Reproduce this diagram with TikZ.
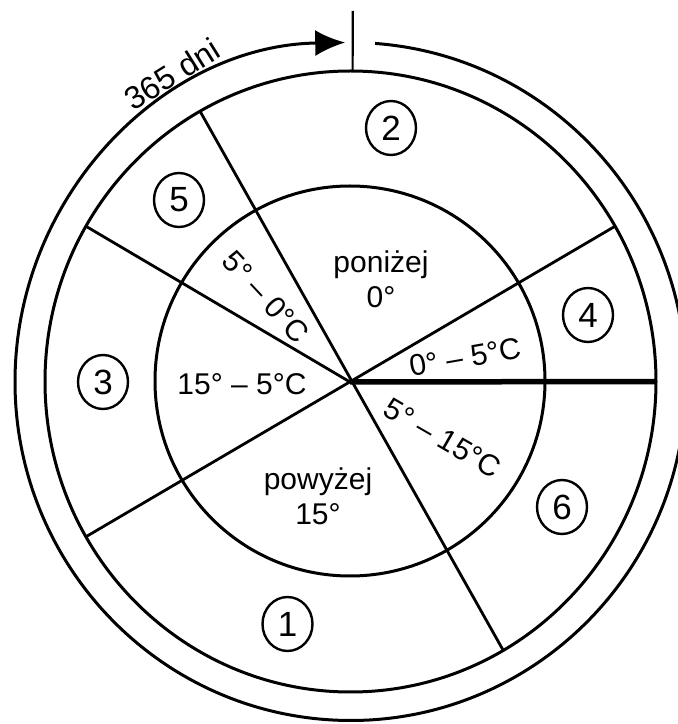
\documentclass[tikz,border=0pt]{standalone}
\usepackage{fontspec}
\setmainfont{Liberation Sans}
\usetikzlibrary{calc,shapes.geometric,arrows.meta}
\begin{document}
\begin{tikzpicture}[x=1pt,y=1pt,
  ringline/.style={line width=3pt},
  rayline/.style={line width=2.8pt},
  num/.style={draw, ellipse, line width=2.4pt, minimum width=50pt, minimum height=54pt, inner sep=0pt, font=\fontsize{35}{35}\selectfont},
  lab/.style={font=\fontsize{30}{35}\selectfont, inner sep=0pt, align=center}]
\useasboundingbox (0,0) rectangle (678,724);
\coordinate (C) at (350.5,342.5);
\coordinate (O) at (350,342);
% circles
\draw[ringline] (C) ellipse [x radius=305.5pt, y radius=310.5pt];
\draw[ringline] (350,343) circle [radius=195pt];
\coordinate (a0) at ($(C)+(85.8:335.5pt and 339pt)$);
\draw[ringline,-{Latex[length=30pt,width=26pt]}] (a0) arc[start angle=85.8, end angle=-269.1, x radius=335.5pt, y radius=339pt];
% tick
\coordinate (t1) at (352.7,713);
\coordinate (t0) at ($(C)+(89.6:305.5pt and 310.5pt)$);
\draw[line width=2.2pt] (t1) -- (t0);
% radial lines
\coordinate (e0) at ($(C)+(0:305.5pt and 310.5pt)$);
\coordinate (e30) at ($(C)+(30:305.5pt and 310.5pt)$);
\coordinate (e120) at ($(C)+(119.5:305.5pt and 310.5pt)$);
\coordinate (e150) at ($(C)+(150:305.5pt and 310.5pt)$);
\coordinate (e210) at ($(C)+(210:305.5pt and 310.5pt)$);
\coordinate (e300) at ($(C)+(300:305.5pt and 310.5pt)$);
\draw[line width=5.5pt] (O) -- (e0);
\draw[rayline] (e30) -- (e210);
\draw[rayline] (e120) -- (e300);
\draw[rayline] (O) -- (e150);
% numbers
\node[num] (n1) at (287.5,100) {1};
\node[num] (n2) at (391,596) {2};
\node[num] (n3) at (103,342) {3};
\node[num] (n4) at (588,409) {4};
\node[num] (n5) at (179,524) {5};
\node[num] (n6) at (562,217) {6};
% inner labels
\node[lab] (pon) at (381,444.5) {poniżej\\0°};
\node[lab] (pow) at (318,228) {powyżej\\15°};
\node[lab] (l155) at (242,340) {15° – 5°C};
\node[lab,rotate=10] (l05) at (465,367) {0° – 5°C};
\node[lab,rotate=-47] (l50) at (266,427) {5° – 0°C};
\node[lab,rotate=-30] (l515) at (443,286) {5° – 15°C};
\node[lab,rotate=32,font=\fontsize{32}{35}\selectfont] (days) at (172,650) {365 dni};
\end{tikzpicture}
\end{document}
